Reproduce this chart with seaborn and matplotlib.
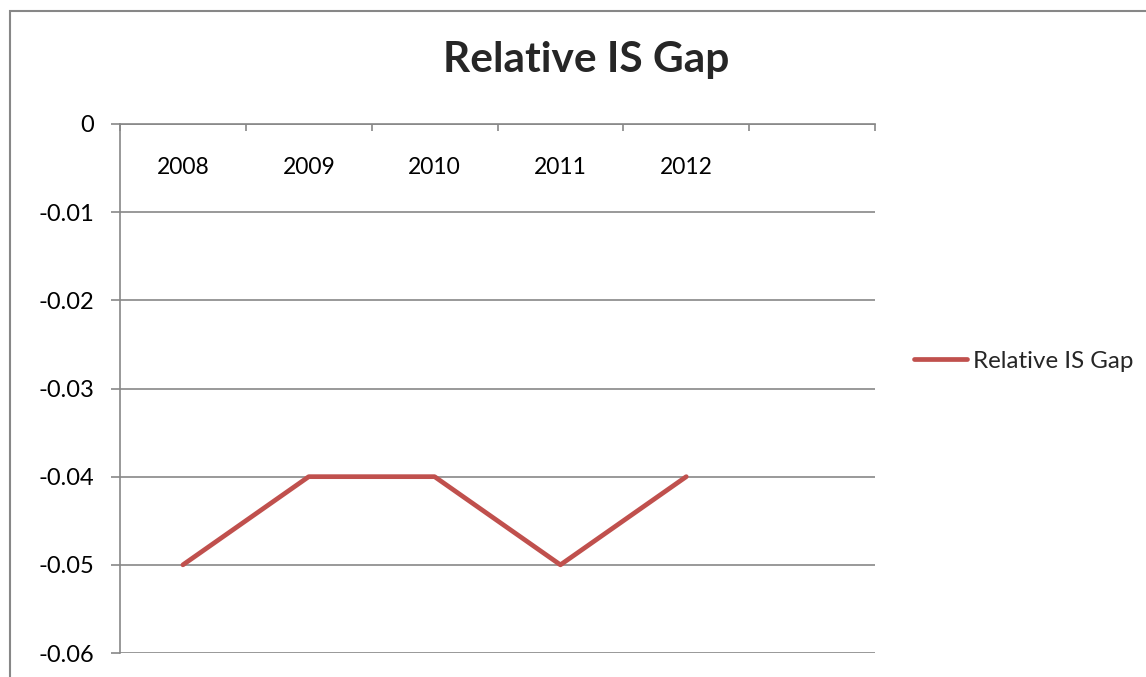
import matplotlib
matplotlib.use("Agg")
import matplotlib.pyplot as plt
from matplotlib.patches import Rectangle
from matplotlib.ticker import FixedLocator, FuncFormatter
import seaborn as sns
import pandas as pd

# Series data
years = ["2008", "2009", "2010", "2011", "2012"]
gap = [-0.05, -0.04, -0.04, -0.05, -0.04]
series_name = "Relative IS Gap"
y_ticks = [0, -0.01, -0.02, -0.03, -0.04, -0.05, -0.06]

sns.set_theme(style="white")
plt.rcParams["font.family"] = ["Lato", "DejaVu Sans"]
plt.rcParams["axes.unicode_minus"] = False

GRID = "#878787"
RED = "#C0504D"

df = pd.DataFrame({"year": years, "gap": gap})

fig = plt.figure(figsize=(11.46, 6.77), dpi=100)
W, H = 1146, 677
ax = fig.add_axes([120 / W, 1 - 653 / H, (875 - 120) / W, (653 - 124) / H])

sns.lineplot(data=df, x="year", y="gap", ax=ax, color=RED, linewidth=3.4,
             label=series_name, sort=False)
ax.lines[0].set_solid_capstyle("round")

# six category slots, last one left empty
ax.set_xlim(-0.5, 5.5)
ax.set_ylim(min(y_ticks), max(y_ticks))

# category labels sit just under the zero line, tick marks on slot edges
ax.xaxis.tick_top()
ax.set_xticks(range(len(years)))
ax.set_xticklabels(years)
ax.xaxis.set_minor_locator(FixedLocator([i - 0.5 for i in range(7)]))
ax.tick_params(axis="x", which="major", length=0, pad=-39, labelsize=16.5,
               labelcolor="black")
ax.tick_params(axis="x", which="minor", top=True, bottom=False, direction="in",
               length=5, width=1.2, color=GRID)

ax.yaxis.set_major_locator(FixedLocator(y_ticks))
ax.yaxis.set_major_formatter(FuncFormatter(lambda v, p: f"{v:g}"))
ax.tick_params(axis="y", which="major", left=True, direction="out", length=6.5,
               width=1.2, color=GRID, pad=12, labelsize=17, labelcolor="black")

ax.grid(axis="y", color=GRID, linewidth=1.2)
ax.set_axisbelow(True)
ax.set_xlabel("")
ax.set_ylabel("")

for side in ["right", "bottom"]:
    ax.spines[side].set_visible(False)
for side in ["left", "top"]:
    ax.spines[side].set_color(GRID)
    ax.spines[side].set_linewidth(1.2)

ax.legend(loc="center left", bbox_to_anchor=(914 / W, 1 - 361 / H),
          bbox_transform=fig.transFigure, frameon=False, fontsize=17.4,
          handlelength=2.2, handletextpad=0.25, borderaxespad=0, borderpad=0)

fig.text(586 / W, 1 - 72 / H, series_name, ha="center", va="baseline",
         fontsize=30.5, fontweight="bold")

# chart-area border
fig.patches.append(Rectangle((10 / W, -0.1), 1.2, 1 - 11 / H + 0.1,
                             transform=fig.transFigure, fill=False,
                             edgecolor=GRID, linewidth=1.5))

fig.savefig("out.png", dpi=100)
